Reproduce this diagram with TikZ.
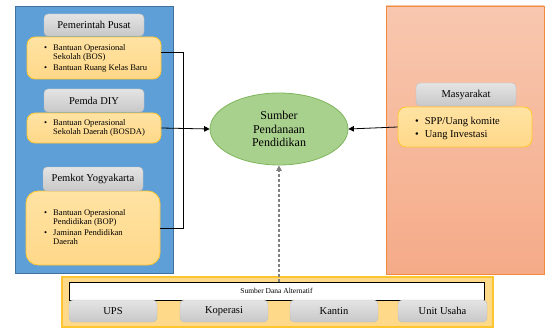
\documentclass[tikz,border=0pt]{standalone}
\usepackage{fontspec}
\setmainfont{Liberation Serif}
\usetikzlibrary{arrows.meta,shapes.geometric}
\definecolor{bluefill}{HTML}{5E9FD8}
\definecolor{blueline}{HTML}{41719C}
\definecolor{yelTop}{HTML}{FFE3A3}
\definecolor{yelBot}{HTML}{FFD889}
\definecolor{yelLine}{HTML}{FFC52E}
\definecolor{grayTop}{HTML}{E4E4E4}
\definecolor{grayBot}{HTML}{C8C8C8}
\definecolor{grayLine}{HTML}{BDBDBD}
\definecolor{ellFill}{HTML}{A9D18E}
\definecolor{ellLine}{HTML}{7FB55C}
\definecolor{pinkTop}{HTML}{F8C7AF}
\definecolor{pinkBot}{HTML}{F5AB88}
\definecolor{pinkLine}{HTML}{F08A3E}
\definecolor{botFill}{HTML}{FFD98A}
\begin{document}
\begin{tikzpicture}[x=1pt,y=-1pt,
  panel/.style={draw, line width=0.8pt, inner sep=0pt},
  graybox/.style={draw=grayLine, top color=grayTop, bottom color=grayBot, rounded corners=4pt, inner sep=0pt, font=\fontsize{10.5}{12}\selectfont},
  yelbox/.style={draw=yelLine, line width=0.8pt, top color=yelTop, bottom color=yelBot, rounded corners=8pt, inner sep=0pt},
  smalllist/.style={anchor=west, inner sep=0pt, font=\fontsize{8.6}{9}\selectfont},
  biglist/.style={anchor=west, inner sep=0pt, font=\fontsize{10.5}{13}\selectfont},
  conn/.style={line width=0.8pt, -{Triangle[length=5.5pt,width=5.5pt]}}
]
\useasboundingbox (0,0) rectangle (552,329);
% panels
\node[panel, draw=blueline, fill=bluefill, minimum width=158pt, minimum height=267pt] (lp) at (94,139.5) {};
\node[panel, draw=pinkLine, top color=pinkTop, bottom color=pinkBot, minimum width=158pt, minimum height=268pt] (rp) at (465,140) {};
\node[panel, draw=yelLine, line width=1.2pt, fill=botFill, minimum width=431pt, minimum height=50pt] (bp) at (277.5,302) {};
% left boxes
\node[yelbox, minimum width=134pt, minimum height=42pt] (y1) at (94,58) {};
\node[graybox, minimum width=100pt, minimum height=22pt] (g1) at (94,25) {Pemerintah Pusat};
\node[yelbox, minimum width=134pt, minimum height=30pt] (y2) at (94,128) {};
\node[graybox, minimum width=100pt, minimum height=23pt] (g2) at (94,100.5) {Pemda DIY};
\node[yelbox, rounded corners=12pt, minimum width=134pt, minimum height=74pt] (y3) at (93,228) {};
\node[graybox, minimum width=100pt, minimum height=24pt] (g3) at (93,179) {Pemkot Yogyakarta};
\node[smalllist] (t1) at (44,59) {\begin{tabular}{@{}l@{\hspace{6pt}}l@{}}\textbullet & Bantuan Operasional\\ & Sekolah (BOS)\\[2pt] \textbullet & Bantuan Ruang Kelas Baru\end{tabular}};
\node[smalllist] (t2) at (44,128) {\begin{tabular}{@{}l@{\hspace{6pt}}l@{}}\textbullet & Bantuan Operasional\\ & Sekolah Daerah (BOSDA)\end{tabular}};
\node[smalllist] (t3) at (44,228) {\begin{tabular}{@{}l@{\hspace{6pt}}l@{}}\textbullet & Bantuan Operasional\\ & Pendidikan (BOP)\\[2pt] \textbullet & Jaminan Pendidikan\\ & Daerah\end{tabular}};
% right boxes
\node[yelbox, minimum width=134pt, minimum height=40pt] (y4) at (465,127) {};
\node[graybox, minimum width=100pt, minimum height=23pt] (g4) at (466,94.5) {Masyarakat};
\node[biglist] (t4) at (415,128) {\begin{tabular}{@{}l@{\hspace{6pt}}l@{}}\textbullet & SPP/Uang komite\\ \textbullet & Uang Investasi\end{tabular}};
% ellipse
\node[ellipse, draw=ellLine, line width=0.8pt, fill=ellFill, minimum width=138pt, minimum height=72pt, align=center, inner sep=0pt, font=\fontsize{12}{13.5}\selectfont] (ell) at (279,129) {Sumber\\Pendanaan\\Pendidikan};
% bottom
\node[draw=black, line width=0.6pt, fill=white, minimum width=415pt, minimum height=18pt, inner sep=0pt, font=\fontsize{7.5}{9}\selectfont] (wb) at (276.5,291) {Sumber Dana Alternatif};
\node[graybox, minimum width=88pt, minimum height=22pt] (u1) at (113,311) {UPS};
\node[graybox, minimum width=88pt, minimum height=22pt] (u2) at (224,311) {Koperasi};
\node[graybox, minimum width=88pt, minimum height=22pt] (u3) at (334,311) {Kantin};
\node[graybox, minimum width=89pt, minimum height=22pt] (u4) at (442.5,311) {Unit Usaha};
% connectors
\coordinate (jt) at (183,52);
\coordinate (jb) at (183,228);
\draw[line width=0.8pt] ([yshift=6pt]y1.east) -- (jt) -- (jb) -- (y3.east |- jb);
\draw[conn] (y2.east) -- (ell.west);
\draw[conn] (y4.west) -- (ell.east);
\draw[line width=1.4pt, draw=gray, dash pattern=on 3pt off 2pt, -{Triangle[length=5.5pt,width=5.5pt]}] (wb.north -| ell.south) -- (ell.south);
\end{tikzpicture}
\end{document}
